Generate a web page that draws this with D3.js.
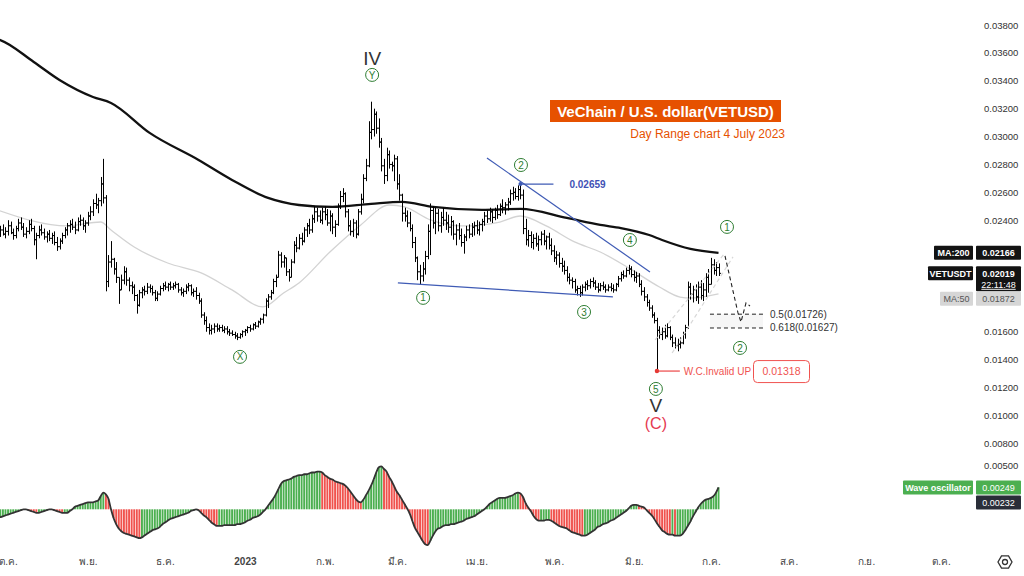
<!DOCTYPE html>
<html><head><meta charset="utf-8">
<script src="https://cdn.jsdelivr.net/npm/d3@7"></script>
<style>
html,body{margin:0;padding:0;background:#fff;}
svg{display:block;}
text{font-family:"Liberation Sans",Arial,sans-serif;}
</style></head><body>
<svg id="chart" width="1024" height="576"></svg>
<script>
// ---------- DATA ----------
const firstDay = "2022-09-27"; // daily bars, one per day
const highs = [
.0238,.0236,.0237,.0235,.0240,.0239,.0234,.0236,.0241,.0242,
.0238,.0235,.0240,.0241,.0236,.0231,.0236,.0237,.0234,.0232,
.0233,.0231,.0232,.0228,.0227,.0231,.0235,.0238,.0240,.0241,
.0239,.0242,.0244,.0242,.0240,.0246,.0250,.0255,.0259,.0256,
.0271,.0284,.0258,.0215,.0225,.0213,.0210,.0198,.0201,.0207,
.0206,.0199,.0196,.0194,.0187,.0190,.0192,.0193,.0195,.0194,
.0193,.0190,.0189,.0193,.0195,.0196,.0195,.0196,.0195,.0196,
.0195,.0192,.0191,.0194,.0195,.0194,.0191,.0192,.0188,.0184,
.0174,.0171,.0166,.0165,.0166,.0166,.0165,.0165,.0164,.0164,
.0162,.0161,.0160,.0159,.0159,.0161,.0162,.0164,.0165,.0166,
.0167,.0168,.0170,.0173,.0184,.0187,.0190,.0198,.0201,.0218,
.0217,.0215,.0212,.0205,.0212,.0225,.0228,.0230,.0231,.0235,
.0238,.0241,.0244,.0250,.0249,.0247,.0249,.0250,.0248,.0247,
.0245,.0240,.0252,.0261,.0263,.0260,.0248,.0240,.0241,.0240,
.0248,.0259,.0273,.0284,.0311,.0325,.0320,.0318,.0313,.0299,
.0284,.0292,.0290,.0282,.0287,.0286,.0273,.0259,.0249,.0247,
.0246,.0237,.0228,.0214,.0208,.0210,.0218,.0237,.0252,.0250,
.0249,.0248,.0246,.0249,.0246,.0244,.0243,.0240,.0237,.0238,
.0234,.0230,.0236,.0237,.0238,.0239,.0240,.0239,.0241,.0246,
.0247,.0249,.0248,.0249,.0251,.0252,.0255,.0253,.0256,.0262,
.0264,.0263,.0265,.02659,.0262,.0241,.0233,.0232,.0230,.0231,
.0229,.0232,.0233,.0229,.0231,.0227,.0222,.0218,.0217,.0213,
.0211,.0207,.0202,.0199,.0198,.0193,.0193,.0194,.0196,.0197,
.0198,.0199,.0197,.0195,.0195,.0196,.0194,.0194,.0195,.0194,
.0195,.0200,.0203,.0204,.0206,.0208,.0207,.0204,.0203,.0202,
.0197,.0192,.0187,.0183,.0179,.0174,.0170,.0164,.0163,.0165,
.0166,.0164,.0158,.0156,.0155,.0156,.0160,.0165,.0196,.0195,
.0193,.0194,.0196,.0197,.0195,.0202,.0205,.0213,.0212,.0210,.0209];
const lows = [
.0226,.0228,.0229,.0227,.0229,.0230,.0226,.0227,.0232,.0233,
.0228,.0227,.0230,.0232,.0222,.0212,.0227,.0229,.0226,.0224,
.0225,.0223,.0222,.0218,.0219,.0223,.0227,.0229,.0231,.0233,
.0230,.0232,.0236,.0233,.0231,.0236,.0240,.0243,.0248,.0245,
.0250,.0252,.0189,.0192,.0206,.0201,.0195,.0180,.0190,.0194,
.0193,.0189,.0187,.0182,.0173,.0178,.0184,.0186,.0187,.0188,
.0186,.0182,.0182,.0186,.0189,.0190,.0189,.0190,.0190,.0191,
.0188,.0186,.0185,.0187,.0189,.0186,.0185,.0183,.0180,.0170,
.0165,.0160,.0158,.0158,.0159,.0160,.0160,.0160,.0159,.0158,
.0157,.0157,.0155,.0154,.0155,.0156,.0157,.0159,.0160,.0161,
.0162,.0163,.0165,.0166,.0171,.0177,.0183,.0187,.0192,.0199,
.0206,.0206,.0200,.0196,.0199,.0209,.0217,.0219,.0222,.0224,
.0228,.0230,.0231,.0238,.0239,.0238,.0237,.0240,.0236,.0232,
.0230,.0228,.0236,.0248,.0253,.0242,.0232,.0229,.0228,.0227,
.0229,.0244,.0252,.0268,.0278,.0298,.0300,.0302,.0292,.0275,
.0266,.0268,.0277,.0275,.0268,.0262,.0254,.0239,.0239,.0235,
.0232,.0220,.0210,.0197,.0194,.0196,.0201,.0212,.0215,.0234,
.0230,.0232,.0231,.0236,.0233,.0231,.0229,.0226,.0222,.0226,
.0221,.0216,.0225,.0227,.0228,.0229,.0230,.0229,.0232,.0236,
.0238,.0239,.0238,.0240,.0241,.0243,.0245,.0244,.0247,.0251,
.0254,.0255,.0254,.0255,.0230,.0222,.0221,.0220,.0219,.0221,
.0218,.0222,.0222,.0219,.0219,.0215,.0210,.0208,.0206,.0203,
.0201,.0196,.0194,.0191,.0188,.0186,.0185,.0186,.0189,.0190,
.0191,.0192,.0190,.0188,.0189,.0190,.0188,.0189,.0189,.0188,
.0189,.0192,.0196,.0198,.0199,.0201,.0199,.0196,.0195,.0192,
.0186,.0182,.0178,.0175,.0170,.0166,.01318,.0155,.0154,.0155,
.0156,.0154,.0149,.0148,.0146,.0148,.0151,.0155,.0162,.0183,
.0181,.0182,.0180,.0183,.0182,.0185,.0188,.0196,.0201,.0200,.0200];
const closes = [
.0231,.0233,.0230,.0232,.0236,.0231,.0229,.0234,.0238,.0235,
.0230,.0232,.0237,.0234,.0226,.0229,.0233,.0231,.0228,.0230,
.0227,.0229,.0224,.0221,.0225,.0229,.0233,.0236,.0237,.0235,
.0233,.0239,.0240,.0236,.0238,.0243,.0246,.0252,.0251,.0254,
.0266,.0256,.0196,.0210,.0212,.0205,.0199,.0190,.0197,.0203,
.0197,.0193,.0192,.0186,.0179,.0188,.0190,.0189,.0192,.0191,
.0188,.0184,.0187,.0191,.0193,.0192,.0194,.0192,.0193,.0194,
.0190,.0188,.0189,.0192,.0193,.0188,.0189,.0186,.0182,.0172,
.0168,.0163,.0161,.0162,.0164,.0162,.0163,.0161,.0162,.0160,
.0159,.0158,.0157,.0156,.0158,.0160,.0161,.0163,.0162,.0165,
.0164,.0167,.0169,.0172,.0182,.0185,.0188,.0196,.0199,.0215,
.0210,.0213,.0203,.0199,.0210,.0222,.0220,.0227,.0225,.0233,
.0236,.0233,.0241,.0246,.0243,.0240,.0246,.0244,.0238,.0243,
.0235,.0237,.0250,.0257,.0259,.0246,.0236,.0232,.0238,.0230,
.0246,.0255,.0270,.0279,.0303,.0305,.0316,.0306,.0296,.0279,
.0272,.0287,.0280,.0279,.0284,.0266,.0258,.0245,.0243,.0238,
.0234,.0224,.0213,.0203,.0200,.0205,.0214,.0232,.0247,.0238,
.0245,.0236,.0242,.0240,.0238,.0235,.0239,.0230,.0233,.0229,
.0224,.0228,.0233,.0230,.0235,.0236,.0233,.0237,.0239,.0243,
.0241,.0246,.0242,.0247,.0244,.0250,.0249,.0251,.0253,.0259,
.0260,.0257,.0262,.0258,.0234,.0226,.0229,.0224,.0227,.0223,
.0226,.0230,.0225,.0228,.0222,.0218,.0213,.0215,.0209,.0207,
.0204,.0199,.0197,.0196,.0190,.0191,.0188,.0192,.0194,.0193,
.0196,.0195,.0192,.0190,.0193,.0192,.0190,.0192,.0191,.0190,
.0194,.0198,.0201,.0200,.0204,.0205,.0201,.0199,.0200,.0194,
.0189,.0185,.0181,.0177,.0172,.0168,.0161,.0158,.0160,.0157,
.0163,.0156,.0152,.0150,.0151,.0152,.0158,.0163,.0192,.0187,
.0190,.0185,.0192,.0186,.0190,.0199,.0194,.0208,.0204,.0206,.02019];
const firstOpen = .0234;

// moving averages (bar index, value)
const ma200Idx = [0,1,14,24,37,44,59,78,91,105,117,130,145,157,169,188,203,221,234,242,253,258,269,280];
const ma200Val = [.03698,.03692,.03535,.03406,.03284,.03241,.03026,.02832,.02689,.0256,.02509,.02495,.02517,.02531,.02495,.02474,.02481,.02416,.02366,.02344,.02294,.02258,.02194,.02166];
const ma50Idx = [0,27,40,44,53,66,79,91,103,111,117,129,141,152,158,168,180,195,203,213,224,234,245,257,265,269,280];
const ma50Val = [.02473,.02359,.02387,.0233,.02208,.02093,.02022,.019,.01778,.01878,.0195,.02172,.02366,.02509,.02495,.02402,.02359,.02387,.0243,.02359,.02244,.02172,.02058,.01921,.01849,.01842,.01872];

// wave oscillator, one value per bar
const osc = [
-.0009,-.0009,-.0008,-.0007,-.0006,-.0005,-.0004,-.0003,-.0002,-.0001,
0,0,-.0001,-.0002,-.0003,-.0004,-.0004,-.0003,-.0002,-.0001,
0,0,-.0001,-.0002,-.0003,-.0004,-.0004,-.0004,-.0002,0,
.0003,.0004,.0005,.0006,.0007,.0008,.0008,.0008,.0009,.0010,
.0015,.0019,.0017,.0012,0,-.0010,-.0017,-.0022,-.0025,-.0027,
-.0028,-.0029,-.0030,-.0031,-.0032,-.0033,-.0032,-.0030,-.0028,-.0026,
-.0024,-.0023,-.0022,-.0020,-.0017,-.0015,-.0013,-.0011,-.0010,-.0009,
-.0008,-.0007,-.0006,-.0005,-.0004,-.0002,-.0001,0,-.0001,-.0004,
-.0007,-.0009,-.0012,-.0015,-.0017,-.0019,-.0019,-.0019,-.0018,-.0018,
-.0018,-.0018,-.0018,-.0017,-.0017,-.0016,-.0015,-.0013,-.0012,-.0010,
-.0009,-.0008,-.0006,-.0003,0,.0004,.0008,.0012,.0017,.0023,
.0029,.0032,.0033,.0034,.0035,.0037,.0038,.0039,.0039,.0040,
.0040,.0041,.0042,.0042,.0043,.0043,.0042,.0039,.0037,.0035,
.0034,.0032,.0031,.0030,.0029,.0027,.0024,.0020,.0016,.0012,
.0009,.0008,.0011,.0016,.0021,.0027,.0034,.0042,.0048,.0049,
.0046,.0043,.0037,.0032,.0026,.0020,.0016,.0011,.0006,.0001,
-.0005,-.0013,-.0021,-.0026,-.0031,-.0036,-.0040,-.0041,-.0036,-.0030,
-.0025,-.0022,-.0021,-.0019,-.0018,-.0018,-.0017,-.0017,-.0016,-.0015,
-.0014,-.0013,-.0011,-.0010,-.0009,-.0008,-.0006,-.0004,-.0002,0,
.0003,.0006,.0008,.0010,.0012,.0013,.0013,.0013,.0014,.0015,
.0016,.0018,.0019,.0018,.0014,.0007,.0002,-.0002,-.0007,-.0011,
-.0013,-.0013,-.0013,-.0012,-.0012,-.0013,-.0015,-.0017,-.0019,-.0020,
-.0021,-.0022,-.0024,-.0026,-.0027,-.0028,-.0029,-.0030,-.0030,-.0029,
-.0027,-.0025,-.0023,-.0020,-.0019,-.0017,-.0016,-.0015,-.0013,-.0012,
-.0010,-.0008,-.0006,-.0004,-.0002,.0001,.0004,.0005,.0005,.0004,
.0003,.0002,-.0001,-.0004,-.0007,-.0011,-.0016,-.0020,-.0024,-.0026,
-.0028,-.0029,-.0029,-.0030,-.0030,-.0030,-.0028,-.0024,-.0019,-.0014,
-.0008,-.0003,.0002,.0006,.0009,.0011,.0012,.0013,.0015,.0019,.0025];
const oscLastValue = 0.00249, oscSignal = 0.00232;

const priceTicks = [.038,.036,.034,.032,.030,.028,.026,.024,.016,.014,.012,.010,.008];
const oscTicks = [.005];
const monthStarts = ["2022-10-01","2022-11-01","2022-12-01","2023-01-01","2023-02-01","2023-03-01","2023-04-01","2023-05-01","2023-06-01","2023-07-01","2023-08-01","2023-09-01","2023-10-01"];
const monthLabels = ["ต.ค.","พ.ย.","ธ.ค.","2023","ก.พ.","มี.ค.","เม.ย.","พ.ค.","มิ.ย.","ก.ค.","ส.ค.","ก.ย.","ต.ค."];

// wave labels: [bar index, price, text]
const waveCircles = [[145.4,.03442,"Y"],[94.1,.0142,"X"],[165.2,.01843,"1"],[203.2,.02796,"2"],[227.7,.01742,"3"],[245.5,.02258,"4"],[255.6,.0119,"5"],[283.4,.02352,"1"],[288.6,.01484,"2"]];
const degreeLabels = [[145.4,.03563,"IV"],[255.6,.01075,"V"]];
const trendLines = [[[190,.02846],[253.3,.02029]],[[155.4,.0195],[238.9,.0185]]];
const waveTwoHigh = 0.02659, waveTwoIdx = 203;
const fibLevels = [[0.5,.01726],[0.618,.01627]];
const invalidLevel = 0.01318, invalidIdx = 256;
const projection = [[282.6,.02144],[287.8,.01735],[289,.0167],[291,.01807],[292.6,.01785]];
const channel = [[[255.3,.01541],[282.6,.02165]],[[261.9,.01448],[285.8,.02137]]];

// ---------- SCALES ----------
const svg = d3.select("#chart");
const parse = d3.utcParse("%Y-%m-%d");
const day0 = parse(firstDay).getTime();
const dateAt = i => new Date(day0 + i*864e5);
const x = d3.scaleUtc()
  .domain([parse("2022-10-01"), parse("2023-07-01"), parse("2023-10-01")])
  .range([8, 711, 941]);
const xi = i => x(dateAt(i));
const y = d3.scaleLinear().domain([0.008, 0.038]).range([443.3, 25]);
const yo = d3.scaleLinear().domain([0, 0.005]).range([509.3, 465.5]);

svg.append("defs").append("clipPath").attr("id","plot")
  .append("rect").attr("x",0).attr("y",0).attr("width",975).attr("height",552);
const plot = svg.append("g").attr("clip-path","url(#plot)");

// ---------- MOVING AVERAGES ----------
const maLine = d3.line().x(d=>xi(d[0])).y(d=>y(d[1])).curve(d3.curveMonotoneX);
plot.append("path").attr("d", maLine(ma50Idx.map((d,k)=>[d,ma50Val[k]])))
  .attr("fill","none").attr("stroke","#d3d3d3").attr("stroke-width",1.3);
plot.append("path").attr("d", maLine(ma200Idx.map((d,k)=>[d,ma200Val[k]])))
  .attr("fill","none").attr("stroke","#111").attr("stroke-width",2.3);

// ---------- OHLC BARS ----------
const bars = closes.map((c,i)=>{
  const o = i===0 ? firstOpen : closes[i-1];
  return {i, o, c, h: Math.max(highs[i],o,c), l: Math.min(lows[i],o,c)};
});
const barPath = d => {
  const cx = Math.round(xi(d.i)) + 0.5;
  return `M${cx},${y(d.h)}V${y(d.l)}M${cx-1.6},${y(d.o)}H${cx}M${cx},${y(d.c)}H${cx+1.6}`;
};
plot.append("path").attr("d", bars.map(barPath).join(""))
  .attr("fill","none").attr("stroke","#000").attr("stroke-width",1);

// ---------- TREND LINES ----------
const dl = d3.line().x(d=>xi(d[0])).y(d=>y(d[1]));
trendLines.forEach(t=>{
  plot.append("path").attr("d", dl(t)).attr("stroke","#3f5bb5").attr("stroke-width",1.2).attr("fill","none");
});
plot.append("line").attr("x1",xi(waveTwoIdx)).attr("x2",xi(waveTwoIdx)+33)
  .attr("y1",y(waveTwoHigh)).attr("y2",y(waveTwoHigh)).attr("stroke","#3f5bb5").attr("stroke-width",1.2);
plot.append("circle").attr("cx",xi(waveTwoIdx)).attr("cy",y(waveTwoHigh)).attr("r",2).attr("fill","#3f5bb5");
svg.append("text").attr("x",xi(waveTwoIdx)+49).attr("y",y(waveTwoHigh)+3.5)
  .attr("fill","#3f51b5").attr("font-size",10).attr("font-weight","bold").text(waveTwoHigh.toFixed(5));

channel.forEach(c=>{
  plot.append("path").attr("d", dl(c)).attr("stroke","#d8d8d8").attr("stroke-width",1.2)
    .attr("stroke-dasharray","4,3").attr("fill","none");
});
const fx0 = xi(276.6), fx1 = xi(297.8);
plot.append("rect").attr("x",fx0).attr("y",y(fibLevels[0][1])).attr("width",fx1-fx0)
  .attr("height",y(fibLevels[1][1])-y(fibLevels[0][1])).attr("fill","#000").attr("opacity",0.035);
fibLevels.forEach(f=>{
  plot.append("line").attr("x1",fx0).attr("x2",fx1).attr("y1",y(f[1])).attr("y2",y(f[1]))
    .attr("stroke","#222").attr("stroke-dasharray","4,3").attr("stroke-width",1);
  svg.append("text").attr("x",fx1+7).attr("y",y(f[1])+3.5).attr("font-size",10).attr("fill","#333")
    .text(`${f[0]}(${f[1].toFixed(5)})`);
});
plot.append("path").attr("d", dl(projection)).attr("fill","none").attr("stroke","#222")
  .attr("stroke-width",1.1).attr("stroke-dasharray","4,3");

const invY = y(invalidLevel);
plot.append("line").attr("x1",xi(invalidIdx)).attr("x2",xi(264.9)).attr("y1",invY).attr("y2",invY)
  .attr("stroke","#f06b6b").attr("stroke-width",1.5);
plot.append("circle").attr("cx",xi(invalidIdx)).attr("cy",invY).attr("r",2.2).attr("fill","#e53935");
svg.append("text").attr("x",xi(264.9)+4).attr("y",invY+3.5).attr("font-size",10).attr("fill","#f05350")
  .text("W.C.Invalid UP");
svg.append("rect").attr("x",753.5).attr("y",invY-10.5).attr("width",56).attr("height",22).attr("rx",4)
  .attr("fill","#fff").attr("stroke","#f05350").attr("stroke-width",1);
svg.append("text").attr("x",781.5).attr("y",invY+4).attr("text-anchor","middle").attr("font-size",10.5)
  .attr("fill","#f05350").text(invalidLevel.toFixed(5));

waveCircles.forEach(([i,p,t])=>{
  const g = svg.append("g").attr("transform",`translate(${xi(i)},${y(p)})`);
  g.append("circle").attr("r",6.5).attr("fill","#fff").attr("stroke","#2e7d32").attr("stroke-width",1);
  g.append("text").attr("y",3.6).attr("text-anchor","middle").attr("font-size",10).attr("fill","#2e7d32").text(t);
});
degreeLabels.forEach(([i,p,t])=>{
  svg.append("text").attr("x",xi(i)).attr("y",y(p)+7).attr("text-anchor","middle")
    .attr("font-size",19).attr("fill","#333").text(t);
});
svg.append("text").attr("x",xi(255.6)).attr("y",y(.00968)+9).attr("text-anchor","middle")
  .attr("font-size",16).attr("fill","#e53950").text("(C)");

// ---------- OSCILLATOR ----------
const og = svg.append("g").attr("clip-path","url(#plot)");
og.selectAll("rect").data(osc).join("rect")
  .attr("x",(d,i)=>xi(i)-0.9).attr("width",1.9)
  .attr("y",d=>Math.min(yo(d),yo(0))).attr("height",d=>Math.abs(yo(d)-yo(0)))
  .attr("fill",(d,i)=> (i===0 || d>=osc[i-1]) ? "#4caf50" : "#f0524d");
og.append("path").attr("d", d3.line().x((d,i)=>xi(i)).y(d=>yo(d)).curve(d3.curveMonotoneX)(osc))
  .attr("fill","none").attr("stroke","#333").attr("stroke-width",1.8);

// ---------- AXES ----------
const ya = svg.append("g").attr("transform","translate(978,0)")
  .call(d3.axisRight(y).tickValues(priceTicks).tickFormat(d3.format(".5f")).tickSize(0).tickPadding(6));
const yoa = svg.append("g").attr("transform","translate(978,0)")
  .call(d3.axisRight(yo).tickValues(oscTicks).tickFormat(d3.format(".5f")).tickSize(0).tickPadding(6));
[ya,yoa].forEach(a=>{a.select(".domain").remove();
  a.selectAll("text").attr("font-size",9.5).attr("fill","#333").attr("font-family","Liberation Sans, Arial, sans-serif");});

const xa = svg.append("g").attr("transform","translate(0,553)")
  .call(d3.axisBottom(x).tickValues(monthStarts.map(parse)).tickFormat((d,i)=>monthLabels[i]).tickSize(0).tickPadding(5));
xa.select(".domain").remove();
xa.selectAll("text").attr("font-size",10).attr("fill","#444")
  .attr("font-family","Tahoma, 'Noto Sans Thai', 'DejaVu Sans', sans-serif")
  .attr("font-weight",(d,i)=>monthLabels[i]==="2023"?"bold":"normal");

// ---------- PRICE TAGS ----------
function tag(x0, w, yc, h, fill, color, txt, bold){
  svg.append("rect").attr("x",x0).attr("y",yc-h/2).attr("width",w).attr("height",h).attr("fill",fill).attr("rx",1);
  svg.append("text").attr("x",x0+w/2).attr("y",yc+3.2).attr("text-anchor","middle").attr("font-size",9)
    .attr("font-weight",bold?"bold":"normal").attr("fill",color).text(txt);
}
const lastClose = closes[closes.length-1];
const ma200Last = ma200Val[ma200Val.length-1], ma50Last = ma50Val[ma50Val.length-1];
const yMA200 = y(ma200Last), yLast = y(lastClose);
tag(934,39,yMA200,14,"#131313","#fff","MA:200",true);
tag(976,45,yMA200,14,"#131313","#fff",ma200Last.toFixed(5),true);
tag(928,45,yLast,14,"#131313","#fff","VETUSDT",true);
svg.append("rect").attr("x",976).attr("y",yLast-7).attr("width",45).attr("height",25).attr("fill","#131313").attr("rx",1);
svg.append("text").attr("x",998.5).attr("y",yLast+3.2).attr("text-anchor","middle").attr("font-size",9)
  .attr("font-weight","bold").attr("fill","#fff").text(lastClose.toFixed(5));
svg.append("text").attr("x",998.5).attr("y",yLast+14.5).attr("text-anchor","middle").attr("font-size",9)
  .attr("fill","#fff").attr("text-decoration","underline").text("22:11:48");
const yMA50 = Math.max(y(ma50Last), yLast + 18 + 7.5);
tag(940,33,yMA50,14,"#d6d6d6","#555","MA:50",false);
tag(976,45,yMA50,14,"#d6d6d6","#555",ma50Last.toFixed(5),false);
tag(903,70,yo(oscLastValue),14,"#4caf50","#fff","Wave oscillator",true);
tag(976,45,yo(oscLastValue),14,"#4caf50","#fff",oscLastValue.toFixed(5),false);
tag(976,45,yo(oscLastValue)+15,14,"#2a2e39","#fff",oscSignal.toFixed(5),false);

// settings icon
const ic = svg.append("g").attr("transform","translate(1005,562)");
ic.append("path").attr("d", d3.range(6).map(k=>{const a=Math.PI/3*k; return (k?"L":"M")+(7*Math.cos(a))+","+(7*Math.sin(a));}).join("")+"Z")
  .attr("fill","none").attr("stroke","#333").attr("stroke-width",1.3);
ic.append("circle").attr("r",2.5).attr("fill","none").attr("stroke","#333").attr("stroke-width",1.3);

// ---------- TITLE ----------
svg.append("rect").attr("x",550).attr("y",100).attr("width",231).attr("height",22).attr("fill","#e65100");
svg.append("text").attr("x",665.5).attr("y",116.5).attr("text-anchor","middle").attr("font-size",15)
  .attr("font-weight","bold").attr("fill","#fff").attr("font-family","'DejaVu Sans', Verdana, sans-serif")
  .text("VeChain / U.S. dollar(VETUSD)");
svg.append("text").attr("x",785).attr("y",138).attr("text-anchor","end").attr("font-size",12)
  .attr("fill","#e65100").attr("font-family","'DejaVu Sans', Verdana, sans-serif").text("Day Range chart 4 July 2023");
</script>
</body></html>
